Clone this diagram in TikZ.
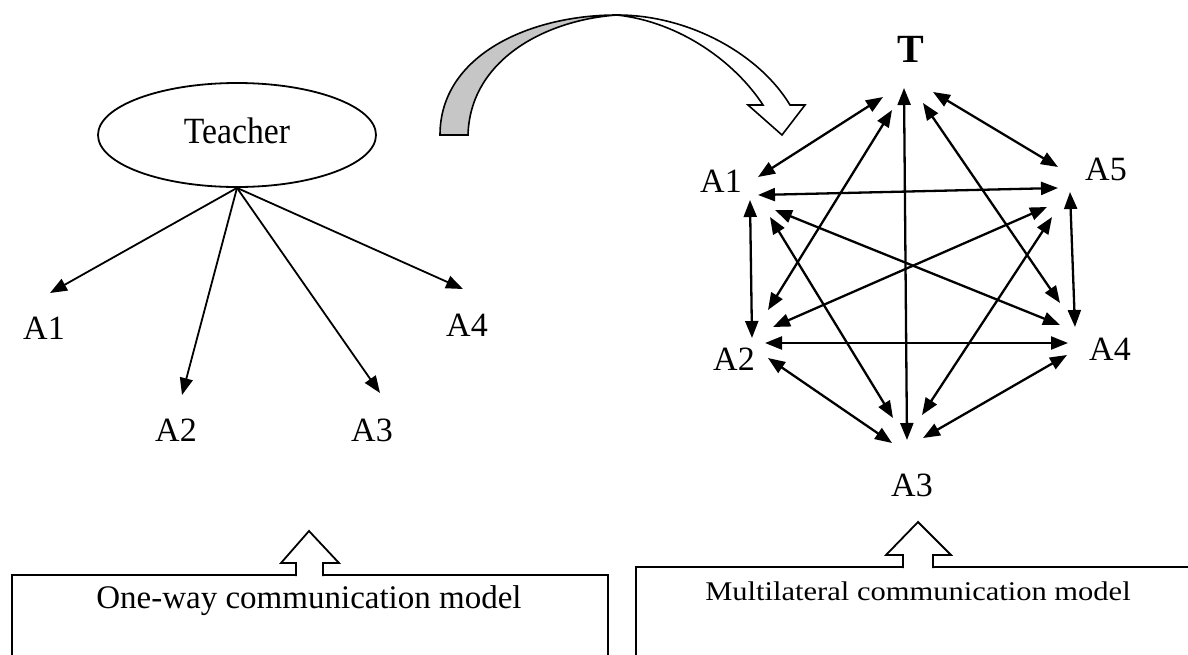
\documentclass[tikz,border=0pt]{standalone}
\usepackage{fontspec}
\setmainfont{Liberation Serif}
\usetikzlibrary{arrows.meta,shapes.geometric}

\tikzset{
  lbl/.style={inner sep=0pt, font=\fontsize{34}{34}\selectfont},
  tip/.style={Triangle[length=17pt,width=13pt]},
  fan/.style={line width=1.8pt, -{Triangle[length=17pt,width=13pt]}},
  both/.style={line width=2.3pt, {Triangle[length=17pt,width=13pt]}-{Triangle[length=17pt,width=13pt]}},
  blockarrow/.style={draw, line width=1.8pt, fill=white, line join=miter},
  modelbox/.style={draw, line width=2pt, fill=white},
}

\begin{document}
\begin{tikzpicture}[x=1pt, y=-1pt]
\useasboundingbox (0,0) rectangle (1188,654);
\clip (0,0) rectangle (1188,654);

% ---------- one-way model ----------
\node[ellipse, draw, line width=1.8pt, minimum width=278pt, minimum height=104pt]
  (teacher) at (237,135) {};
\node[anchor=base, inner sep=0pt, font=\fontsize{37}{37}\selectfont, xscale=0.91]
  (teachertext) at (237,143) {Teacher};

\node[lbl] (l1) at (44,328) {A1};
\node[lbl] (l2) at (176,430) {A2};
\node[lbl] (l3) at (372,430) {A3};
\node[lbl] (l4) at (467,325) {A4};

\coordinate (l1-in) at (50,293);
\coordinate (l2-in) at (182,395);
\coordinate (l3-in) at (380,393);
\coordinate (l4-in) at (463,289);

\draw[fan] (teacher.south) -- (l1-in);
\draw[fan] (teacher.south) -- (l2-in);
\draw[fan] (teacher.south) -- (l3-in);
\draw[fan] (teacher.south) -- (l4-in);

% ---------- curved transition arrow ----------
\coordinate (bend-top) at (617,15);
\draw[line width=1.6pt, fill=gray!45, line join=miter]
  (440,135) .. controls (440,55) and (530,15) .. (bend-top)
  .. controls (545,20) and (470,60) .. (468,135) -- cycle;
\draw[line width=1.6pt, fill=white, line join=miter]
  (bend-top) .. controls (690,15) and (760,55) .. (790,105)
  -- (805,105) -- (782,135) -- (748,105) -- (763,105)
  .. controls (735,62) and (680,22) .. (bend-top) -- cycle;

% ---------- multilateral model ----------
\node[inner sep=0pt, font=\bfseries\fontsize{40}{40}\selectfont] (T) at (911,49) {T};
\node[lbl] (r1) at (721,181) {A1};
\node[lbl] (r2) at (734,359) {A2};
\node[lbl] (r3) at (912,485) {A3};
\node[lbl] (r4) at (1110,349) {A4};
\node[lbl] (r5) at (1106,169) {A5};

% ports around T
\coordinate (T-1) at (883,97);
\coordinate (T-2) at (892,110);
\coordinate (T-3) at (904,88);
\coordinate (T-4) at (923,103);
\coordinate (T-5) at (933,92);
% ports around A1
\coordinate (r1-T) at (758,177);
\coordinate (r1-5) at (758,195);
\coordinate (r1-2) at (750,200);
\coordinate (r1-4) at (775,210);
\coordinate (r1-3) at (770,217);
% ports around A5
\coordinate (r5-T) at (1058,167);
\coordinate (r5-1) at (1058,188);
\coordinate (r5-4) at (1070,192);
\coordinate (r5-2) at (1047,207);
\coordinate (r5-3) at (1052,217);
% ports around A2
\coordinate (r2-T) at (768,310);
\coordinate (r2-5) at (773,327);
\coordinate (r2-1) at (752,338);
\coordinate (r2-4) at (765,343);
\coordinate (r2-3) at (768,358);
% ports around A4
\coordinate (r4-T) at (1060,303);
\coordinate (r4-1) at (1060,325);
\coordinate (r4-5) at (1075,327);
\coordinate (r4-2) at (1068,343);
\coordinate (r4-3) at (1067,355);
% ports around A3
\coordinate (r3-1) at (893,418);
\coordinate (r3-5) at (922,415);
\coordinate (r3-T) at (907,440);
\coordinate (r3-2) at (892,443);
\coordinate (r3-4) at (923,438);

\draw[both] (T-1) -- (r1-T);
\draw[both] (T-2) -- (r2-T);
\draw[both] (T-3) -- (r3-T);
\draw[both] (T-4) -- (r4-T);
\draw[both] (T-5) -- (r5-T);
\draw[both] (r1-5) -- (r5-1);
\draw[both] (r1-2) -- (r2-1);
\draw[both] (r1-4) -- (r4-1);
\draw[both] (r1-3) -- (r3-1);
\draw[both] (r5-2) -- (r2-5);
\draw[both] (r5-3) -- (r3-5);
\draw[both] (r5-4) -- (r4-5);
\draw[both] (r2-4) -- (r4-2);
\draw[both] (r2-3) -- (r3-2);
\draw[both] (r4-3) -- (r3-4);

% ---------- caption boxes with block arrows ----------
\draw[modelbox] (12,700) -- (12,575) -- (608,575) -- (608,700);
\node[anchor=base, inner sep=0pt, font=\fontsize{33}{33}\selectfont]
  (cap1) at (309,608) {One-way communication model};
\draw[blockarrow] (296,576) -- (296,563) -- (281,563) -- (309,531) -- (339,563)
  -- (323,563) -- (323,576);

\draw[modelbox] (636,700) -- (636,567) -- (1200,567);
\node[anchor=base, inner sep=0pt, font=\fontsize{27}{27}\selectfont, xscale=1.13]
  (cap2) at (918,600) {Multilateral communication model};
\draw[blockarrow] (903,568) -- (903,555) -- (886,555) -- (918,522) -- (951,555)
  -- (933,555) -- (933,568);
\end{tikzpicture}
\end{document}
